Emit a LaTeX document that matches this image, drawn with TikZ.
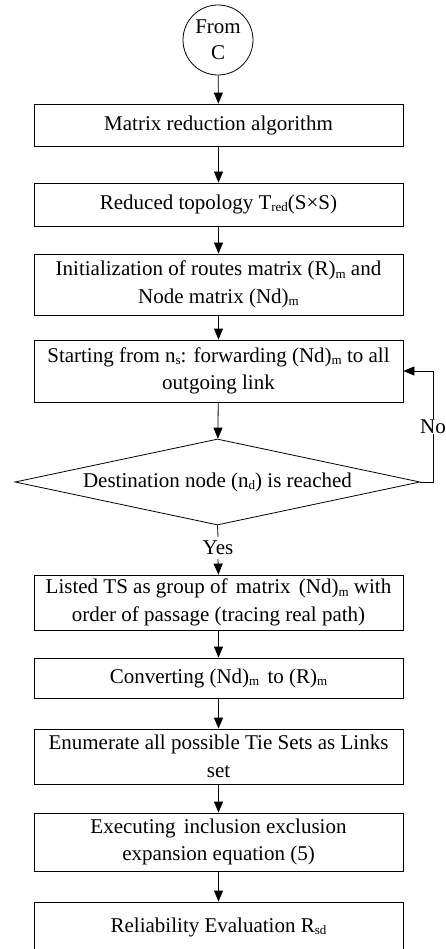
\documentclass[tikz,border=0pt]{standalone}
\usepackage{fontspec}
\setmainfont{Liberation Serif}
\usetikzlibrary{arrows.meta,shapes.geometric}
% small, slightly lowered subscript
\newcommand\lowsub[1]{\raisebox{-2.2pt}{\fontsize{13}{13}\selectfont #1}}
\newcommand\xsp{\hspace{3pt}}
\begin{document}
\begin{tikzpicture}[x=1pt,y=-1pt,
  every node/.style={font=\fontsize{21}{27.5}\selectfont},
  stepbox/.style={draw, line width=0.8pt, minimum width=369pt, inner xsep=0pt,
    inner ysep=0pt, align=center},
  flow/.style={-{Triangle[width=9pt,length=11pt]}, line width=0.8pt},
  plain/.style={line width=0.8pt}]
\path[use as bounding box, clip] (0,0) rectangle (445,949);

% start connector
\node[circle, draw, line width=0.8pt, minimum size=70pt, inner sep=0pt,
  align=center, font=\fontsize{21}{26}\selectfont] (from) at (218,40) {From\\C};

% process steps
\node[stepbox, minimum height=42pt] (b1) at (218.5,125) {Matrix reduction algorithm};
\node[stepbox, minimum height=43pt] (b2) at (218.5,204.5) {Reduced topology T\lowsub{red}(S\texttimes S)};
\node[stepbox, minimum height=61pt] (b3) at (218.5,284.5)
  {Initialization of routes matrix (R)\lowsub{m} and\\Node matrix (Nd)\lowsub{m}};
\node[stepbox, minimum height=62pt] (b4) at (218.5,371)
  {Starting from n\lowsub{s}: forwarding (Nd)\lowsub{m} to all\\outgoing link};
\node[diamond, draw, line width=0.8pt, aspect=4.7, inner sep=0pt,
  minimum width=405pt, minimum height=86pt] (dec) at (217.5,482)
  {Destination node (n\lowsub{d}) is reached};
\node[inner sep=1pt, minimum height=22pt] (yes) at (218,548) {Yes};
\node[stepbox, minimum height=55pt] (b5) at (218.5,602.5)
  {Listed TS as group of\xsp{} matrix\xsp{} (Nd)\lowsub{m} with\\order of passage (tracing real path)};
\node[stepbox, minimum height=40pt] (b6) at (218.5,678)
  {Converting (Nd)\lowsub{m}\xsp{} to (R)\lowsub{m}};
\node[stepbox, minimum height=55pt] (b7) at (218.5,756.5)
  {Enumerate all possible Tie Sets as Links\\set};
\node[stepbox, minimum height=58pt] (b8) at (218.5,842)
  {Executing\xsp{} inclusion exclusion\\expansion equation (5)};
\node[stepbox, minimum height=50pt] (b9) at (218.5,927)
  {Reliability Evaluation R\lowsub{sd}};

% connectors
\draw[flow] (from) -- (b1);
\draw[flow] (b1) -- (b2);
\draw[flow] (b2) -- (b3);
\draw[flow] (b3) -- (b4);
\draw[flow] (b4) -- (dec);
\draw[plain] (dec.south) -- (yes.north);
\draw[flow] (yes.south) -- (b5.north);
\draw[flow] (b5) -- (b6);
\draw[flow] (b6) -- (b7);
\draw[flow] (b7) -- (b8);
\draw[flow] (b8) -- (b9);

% loop back when the destination is not reached
\coordinate (loop) at (433,482);
\draw[flow] (dec.east) -- (loop) |- (b4.east)
  node[pos=0.25, fill=white, inner sep=1pt] {No};
\end{tikzpicture}
\end{document}
